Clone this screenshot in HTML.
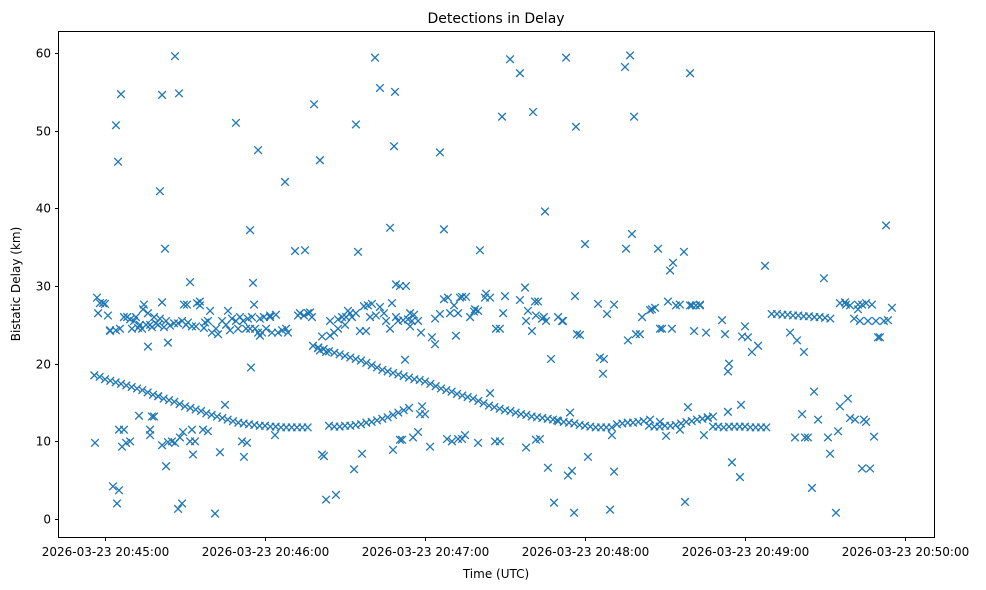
<!DOCTYPE html>
<html><head><meta charset="utf-8"><title>Detections in Delay</title>
<style>
html,body{margin:0;padding:0;background:#fff;}
svg{display:block;font-family:"DejaVu Sans","Liberation Sans",sans-serif;}
</style></head>
<body>
<svg id="chart" width="986" height="590" viewBox="0 0 986 590" xmlns="http://www.w3.org/2000/svg">
<rect x="0" y="0" width="986" height="590" fill="#fff"/>
<text x="496" y="23" font-size="14" text-anchor="middle" fill="#000">Detections in Delay</text>
<g id="marks"></g>
<rect x="58.5" y="31.5" width="876" height="506" fill="none" stroke="#000" stroke-width="1"/>
<g id="xaxis"></g>
<g id="yaxis"></g>
<text x="496" y="578" font-size="12" text-anchor="middle" fill="#000">Time (UTC)</text>
<text x="0" y="0" font-size="12" text-anchor="middle" fill="#000" transform="translate(20,284) rotate(-90)">Bistatic Delay (km)</text>
</svg>
<script>
// time in seconds relative to 2026-03-23 20:45:00 UTC, delay in km
const xTickSeconds = [0, 60, 120, 180, 240, 300];
const xTickLabels = ["2026-03-23 20:45:00","2026-03-23 20:46:00","2026-03-23 20:47:00","2026-03-23 20:48:00","2026-03-23 20:49:00","2026-03-23 20:50:00"];
const yTicks = [0, 10, 20, 30, 40, 50, 60];

const trackA = [[-4,18.5],[-2,18.3],[0,18.0],[2,17.8],[4,17.6],[6,17.4],[8,17.2],[10,17.0],[12,16.8],[14,16.6],[16,16.3],[18,16.0],[20,15.8],[22,15.5],[24,15.3],[26,15.1],[28,14.8],[30,14.5],[32,14.3],[34,14.1],[36,13.9],[38,13.6],[40,13.4],[42,13.2],[44,13.0],[46,12.8],[48,12.6],[50,12.4],[52,12.3],[54,12.2],[56,12.1],[58,12.0],[60,12.0],[62,11.9],[64,11.9],[66,11.8],[68,11.8],[70,11.8],[72,11.8],[74,11.8],[76,11.8]];
const trackB = [[84,12.0],[86,11.9],[88,11.9],[90,12.0],[92,12.0],[94,12.1],[96,12.2],[98,12.4],[100,12.5],[102,12.7],[104,12.9],[106,13.1],[108,13.4],[110,13.7],[112,14.0],[114,14.3]];
const trackC = [[78,22.3],[80,22.1],[82,21.9],[84,21.6],[86,21.4],[88,21.2],[90,21.0],[92,20.8],[94,20.6],[96,20.4],[98,20.1],[100,19.8],[102,19.5],[104,19.2],[106,19.0],[108,18.8],[110,18.6],[112,18.4],[114,18.2],[116,18.0],[118,17.9],[120,17.7],[122,17.4],[124,17.1],[126,16.8],[128,16.6],[130,16.4],[132,16.1],[134,15.9],[136,15.7],[138,15.5],[140,15.2],[142,14.9],[144,14.6],[146,14.4],[148,14.2],[150,14.0],[152,13.9],[154,13.7],[156,13.5],[158,13.4],[160,13.2],[162,13.1],[164,13.0],[166,12.9],[168,12.8],[170,12.6],[172,12.5],[174,12.4],[176,12.3],[178,12.1],[180,12.0],[182,11.9],[184,11.8],[186,11.8],[188,11.8],[190,11.8],[192,12.2],[194,12.3],[196,12.4],[198,12.4],[200,12.5],[202,12.6]];
const trackD = [[204,12.0],[206,11.9],[208,11.9],[210,12.0],[212,12.0],[214,12.1],[216,12.3],[218,12.5],[220,12.6],[222,12.8],[224,12.9],[226,13.1],[228,13.2]];
const trackE = [[228,11.9],[230,11.9],[232,11.8],[234,11.9],[236,11.9],[238,11.9],[240,11.9],[242,11.8],[244,11.8],[246,11.8],[248,11.8]];
const trackF = [[250,26.4],[252,26.4],[254,26.3],[256,26.3],[258,26.2],[260,26.2],[262,26.1],[264,26.1],[266,26.0],[268,26.0],[270,25.9],[272,25.8]];
const band25 = [[1.9,24.3],[4.1,24.3],[5.6,24.5],[7.1,26],[8.3,26],[9.4,25.7],[10.1,24.5],[10.9,25.5],[11.6,26],[12.4,24.6],[13.1,25],[13.9,24.5],[14.6,27.6],[15.4,25],[16.1,26.5],[16.9,25],[17.6,24.7],[18.4,26],[19.1,25.2],[19.9,25],[20.6,25.8],[21.4,27.9],[22.1,24.7],[22.9,25.5],[24.4,24.9],[25.9,25.2],[27.4,25.2],[28.9,25.5],[30.4,25],[31.1,25.3],[32.6,24.8],[34.1,24.8],[35.6,28],[37.1,24.6],[38.6,25.5],[40.1,24],[41.6,24.5],[42.4,23.8],[43.9,25.5],[45.4,25],[46.9,24.3],[47.6,25.8],[49.1,25.5],[50.6,26],[51.8,25.5],[52.9,24.5],[53.6,25.8],[54.4,24.5],[55.1,26],[56.3,24.5],[57.4,24],[58.1,25.8],[58.9,24],[59.6,26],[60.4,24.5],[61.9,26.2],[62.6,24],[64.1,26.3],[64.9,24],[66.4,24.3],[67.9,24.5],[68.6,24],[72.4,26.2],[73.1,26.5],[74.6,26.2],[76.9,26.6],[77.6,26],
[79.9,22],[80.6,21.7],[81.4,23.5],[82.9,21.5],[84.4,25.5],[85.9,24],[87.4,25.7],[88.9,26],[90.4,26],[91.1,26.8],[92.6,26],[94.1,26.5],[95.6,24.2],[97.1,27.4],[97.9,24.2],[99.4,26],[100.1,27.7],[101.6,26.2],[103.1,27.3],[104.6,26.5],[105.4,25.5],[106.9,24.5],[107.6,27.8],[109.1,26],[109.9,25.5],[110.6,30],[111.8,25.6],[112.9,30],[113.6,25.7],[114.4,26.5],[115.1,25.5],[115.9,26.3],[117.4,25.5],[118.5,24],
[123.8,25.8],[125.6,26.4],[127.1,28.3],[128.6,28.5],[129.4,26.5],[130.9,27.5],[132.4,26.5],[133.9,28.6],[135.4,28.6],[136.9,26],[138.4,26.7],[139.9,26.8],[142.9,29],[144.4,28.5],[146.6,24.5],[148.1,24.5],[149.3,26.5],[155.6,28.2],[157.9,25.5],[158.6,26.8],[160.1,24.2],[161.6,26.2],[162.4,28],[163.9,25.8],[164.6,26],[165.4,25.5],[171.4,25.5],
[204.4,26.9],[208.1,24.5],[211.1,28],[212.6,24.5],[215.6,27.6],[219.4,27.5],[221.6,27.5],[223.1,27.6],
[275.6,27.8],[277.5,27.9],[279.4,27.5],[280.9,25.8],[282.4,27.6],[283.9,27.6],[285.4,27.8],[286.1,25.5],[287.6,27.6],[289.1,25.5],[290.6,23.4],[293.6,25.6]];
const outliers = [[-3.75,9.8],[-3,28.5],[-2.6,26.5],[-1.9,27.8],[-0.75,27.8],[0,27.7],[1.1,26.2],[1.9,24.2],[3,4.2],[4.1,50.7],[4.5,2],[4.9,46],[5.25,3.7],[5.25,11.5],[6,54.7],[6.4,9.3],[7.1,11.5],[7.9,9.8],[9.4,10],[12.75,13.3],[14.25,27],[16.1,22.2],[16.9,11.5],[16.9,10.8],[17.6,13.2],[18.4,13.2],[19.9,15.8],[20.6,42.2],[21.4,54.6],[21.4,9.5],[22.5,34.8],[22.9,6.8],[23.6,22.7],[23.6,9.9],[25.1,10],[26.25,59.6],[26.25,9.8],[27.4,1.3],[27.75,54.8],[28.1,10.5],[28.9,2],[29.25,11.2],[29.6,27.6],[30.75,27.6],[31.9,30.5],[31.9,10],[32.6,11.5],[33,8.3],[33.75,10],[34.5,27.8],[35.6,27.5],[36.75,11.5],[37.5,25.3],[38.6,11.3],[39.4,26.8],[41.25,0.7],[43.1,8.6],[45,14.7],[46.1,26.8],[49.1,51],[49.9,24.5],[51.4,10],[52.1,8],[53.25,9.8],[54.4,37.2],[54.75,19.5],[55.5,30.4],[55.9,27.6],[57.4,47.5],[58.1,23.6],[61.9,26],[63.75,10.8],[67.5,43.4],[71.25,34.5],[75,34.6],[76.1,26.5],[78.4,53.4],[80.6,46.2],[81.4,8.3],[82.1,8.1],[82.9,2.5],[84.4,23.6],[86.6,3.1],[87.4,24.5],[90,25],[91.9,26.5],[93.4,6.4],[94.1,50.8],[94.9,34.4],[96.4,8.4],[98.6,27.5],[101.25,59.4],[103.1,55.5],[106.9,37.5],[108,8.9],[108.4,48],[108.75,55],[109.1,30.2],[110.6,10.2],[111.4,10.2],[112.5,20.5],[114.4,24.8],[115.5,10.5],[117.4,11.2],[118.1,13.5],[118.9,14.5],[120,13.5],[121.9,9.3],[122.6,23.4],[123.75,22.5],[125.6,47.2],[127.1,37.3],[128.25,10.3],[130.1,10],[131.6,23.6],[132.4,10.3],[133.1,28.5],[133.9,10.3],[135,10.8],[138.75,27],[139.9,9.8],[140.6,34.6],[142.5,28.5],[144.4,16.2],[146.25,10],[148.1,10],[148.9,51.8],[150,28.7],[151.9,59.2],[155.6,57.4],[157.5,29.8],[157.9,9.2],[160.5,52.4],[161.25,28],[161.6,10.2],[163.1,10.3],[165,39.6],[166.1,6.6],[167.25,20.6],[168.4,2.1],[169.5,12.7],[169.9,26],[171.75,25.5],[172.9,59.4],[173.6,5.6],[174.4,13.7],[175.1,6.2],[175.9,0.8],[176.25,28.7],[176.6,50.5],[177,23.8],[178.1,23.7],[180,35.4],[181.1,8],[184.9,27.7],[185.6,20.8],[186.75,18.7],[187.1,20.6],[188.25,26.4],[189.4,1.2],[190.1,10.8],[190.9,6.1],[190.9,27.6],[195,58.2],[195.4,34.8],[196.1,23],[196.9,59.7],[197.6,36.7],[198.4,51.8],[199.1,23.8],[200.6,23.8],[201.4,26],[204.4,12.8],[205.1,27],[206.25,27.2],[207.4,34.8],[208.1,12.5],[208.9,24.5],[210.4,10.7],[211.9,32],[213,33],[214.1,27.5],[215.6,11.5],[217.1,34.4],[217.5,2.2],[218.6,14.4],[219.4,57.4],[220.1,27.5],[220.9,24.2],[223.1,27.5],[224.6,10.8],[225.4,24],[226.1,13],[231.4,25.6],[232.5,23.8],[233.6,13.8],[233.6,19],[234,20],[235.1,7.3],[238.1,5.4],[238.5,14.7],[238.9,23.5],[240,24.8],[241.1,23.4],[242.6,21.5],[244.9,22.3],[247.5,32.6],[256.9,24],[258.75,10.5],[259.5,23],[261.4,13.5],[262.1,21.5],[262.5,10.5],[263.6,10.5],[265.1,4],[265.9,16.4],[267.4,12.8],[269.6,31],[271.1,10.5],[271.9,8.4],[274.1,0.8],[274.9,11.3],[275.6,14.5],[277.9,27.6],[278.6,15.5],[279.4,13],[281.25,12.8],[282.4,27],[283.1,25.5],[283.9,6.5],[284.6,12.8],[285.4,12.5],[286.9,6.5],[288.4,10.6],[289.9,23.4],[292.1,25.5],[292.9,37.8],[295.1,27.2]];

const NS = "http://www.w3.org/2000/svg";
const X0 = 105, PX_PER_SEC = 160/60;
const Y0 = 519, PX_PER_KM = (519-53)/60;
function xScale(t){ return X0 + t*PX_PER_SEC; }
function yScale(v){ return Y0 - v*PX_PER_KM; }

const marks = document.getElementById('marks');
const groups = [trackA, trackB, trackC, trackD, trackE, trackF, band25, outliers];
const r = 3.8;
groups.forEach(g => g.forEach(p => {
  const cx = xScale(p[0]), cy = yScale(p[1]);
  const path = document.createElementNS(NS, 'path');
  path.setAttribute('d', `M${cx-r},${cy-r}L${cx+r},${cy+r}M${cx-r},${cy+r}L${cx+r},${cy-r}`);
  path.setAttribute('stroke', '#1f77b4');
  path.setAttribute('stroke-width', '1.3');
  path.setAttribute('fill', 'none');
  
  
  marks.appendChild(path);
}));

const xa = document.getElementById('xaxis');
xTickSeconds.forEach((s, i) => {
  const x = Math.round(xScale(s)) + 0.5;
  const ln = document.createElementNS(NS, 'line');
  ln.setAttribute('x1', x); ln.setAttribute('x2', x);
  ln.setAttribute('y1', 537.5); ln.setAttribute('y2', 541);
  ln.setAttribute('stroke', '#000');
  
  
  xa.appendChild(ln);
  const tx = document.createElementNS(NS, 'text');
  tx.setAttribute('x', x); tx.setAttribute('y', 556);
  tx.setAttribute('font-size', '12'); tx.setAttribute('text-anchor', 'middle');
  tx.textContent = xTickLabels[i];
  
  
  xa.appendChild(tx);
});
const ya = document.getElementById('yaxis');
yTicks.forEach(v => {
  const y = Math.round(yScale(v)) + 0.5;
  const ln = document.createElementNS(NS, 'line');
  ln.setAttribute('x1', 55); ln.setAttribute('x2', 58.5);
  ln.setAttribute('y1', y); ln.setAttribute('y2', y);
  ln.setAttribute('stroke', '#000');
  
  
  ya.appendChild(ln);
  const tx = document.createElementNS(NS, 'text');
  tx.setAttribute('x', 51); tx.setAttribute('y', y + 4);
  tx.setAttribute('font-size', '12'); tx.setAttribute('text-anchor', 'end');
  tx.textContent = String(v);
  
  
  ya.appendChild(tx);
});
</script>
</body></html>
